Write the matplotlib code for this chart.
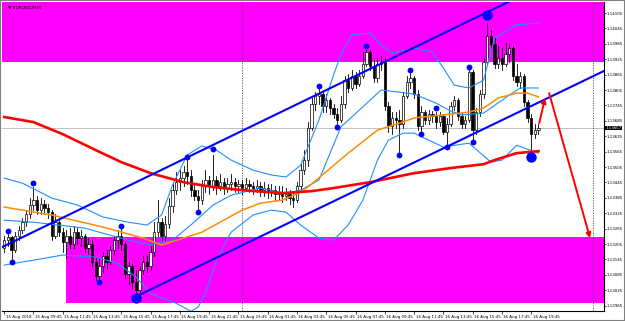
import matplotlib
matplotlib.use("Agg")
import matplotlib.pyplot as plt
import matplotlib.transforms as mtransforms
from matplotlib.patches import Rectangle

# --------------------
# Data: EURUSD M15, 15 Aug 2018 07:45 -> 16 Aug 2018 20:15
# --------------------
symbol = "EURUSD,M15"

opens = [1.13189, 1.13220, 1.13232, 1.13181, 1.13236, 1.13259, 1.13290, 1.13321, 1.13356, 1.13376,
         1.13337, 1.13360, 1.13345, 1.13329, 1.13236, 1.13290, 1.13251, 1.13212, 1.13236, 1.13204,
         1.13251, 1.13228, 1.13236, 1.13189, 1.13204, 1.13134, 1.13080, 1.13119, 1.13158, 1.13134,
         1.13181, 1.13220, 1.13236, 1.13204, 1.13087, 1.13119, 1.13056, 1.13025, 1.13103, 1.13134,
         1.13119, 1.13173, 1.13251, 1.13290, 1.13236, 1.13282, 1.13353, 1.13415, 1.13446, 1.13462,
         1.13485, 1.13470, 1.13415, 1.13392, 1.13376, 1.13431, 1.13454, 1.13431, 1.13454, 1.13431,
         1.13446, 1.13423, 1.13438, 1.13446, 1.13431, 1.13438, 1.13423, 1.13438, 1.13431, 1.13423,
         1.13431, 1.13415, 1.13423, 1.13407, 1.13415, 1.13399, 1.13407, 1.13392, 1.13399, 1.13384,
         1.13376, 1.13431, 1.13493, 1.13532, 1.13657, 1.13750, 1.13782, 1.13789, 1.13743, 1.13766,
         1.13735, 1.13711, 1.13688, 1.13750, 1.13844, 1.13813, 1.13860, 1.13828, 1.13860, 1.13906,
         1.13953, 1.13899, 1.13852, 1.13906, 1.13914, 1.13743, 1.13665, 1.13696, 1.13688, 1.13672,
         1.13782, 1.13836, 1.13852, 1.13789, 1.13665, 1.13719, 1.13688, 1.13711, 1.13704, 1.13680,
         1.13704, 1.13641, 1.13672, 1.13743, 1.13766, 1.13704, 1.13672, 1.13688, 1.13875, 1.13649,
         1.13719, 1.13789, 1.13914, 1.14016, 1.13984, 1.13906, 1.13930, 1.13906, 1.13945, 1.13969,
         1.13860, 1.13836, 1.13860, 1.13758, 1.13696, 1.13633, 1.13649]
highs = [1.13236, 1.13243, 1.13236, 1.13251, 1.13275, 1.13306, 1.13337, 1.13384, 1.13427, 1.13392,
         1.13384, 1.13376, 1.13360, 1.13337, 1.13321, 1.13306, 1.13267, 1.13259, 1.13267, 1.13275,
         1.13267, 1.13259, 1.13243, 1.13228, 1.13220, 1.13150, 1.13150, 1.13173, 1.13181, 1.13197,
         1.13236, 1.13259, 1.13263, 1.13212, 1.13134, 1.13126, 1.13103, 1.13119, 1.13158, 1.13158,
         1.13197, 1.13290, 1.13376, 1.13306, 1.13314, 1.13384, 1.13438, 1.13485, 1.13493, 1.13509,
         1.13532, 1.13493, 1.13438, 1.13415, 1.13454, 1.13493, 1.13470, 1.13551, 1.13470, 1.13477,
         1.13462, 1.13462, 1.13477, 1.13462, 1.13454, 1.13454, 1.13462, 1.13454, 1.13446, 1.13454,
         1.13446, 1.13446, 1.13438, 1.13438, 1.13431, 1.13431, 1.13431, 1.13423, 1.13415, 1.13407,
         1.13446, 1.13516, 1.13571, 1.13680, 1.13774, 1.13797, 1.13809, 1.13797, 1.13789, 1.13774,
         1.13750, 1.13735, 1.13782, 1.13860, 1.13867, 1.13883, 1.13875, 1.13883, 1.13953, 1.13965,
         1.13961, 1.13922, 1.13930, 1.13938, 1.13930, 1.13758, 1.13719, 1.13719, 1.13727, 1.13797,
         1.13860, 1.13871, 1.13860, 1.13805, 1.13743, 1.13727, 1.13727, 1.13723, 1.13719, 1.13719,
         1.13711, 1.13696, 1.13758, 1.13782, 1.13774, 1.13719, 1.13704, 1.13883, 1.13883, 1.13735,
         1.13805, 1.13930, 1.14066, 1.14039, 1.14008, 1.13977, 1.13969, 1.13989, 1.13984, 1.13977,
         1.13906, 1.13875, 1.13867, 1.13766, 1.13711, 1.13672, 1.13672]
lows = [1.13173, 1.13197, 1.13146, 1.13173, 1.13220, 1.13247, 1.13275, 1.13306, 1.13337, 1.13321,
        1.13321, 1.13321, 1.13306, 1.13220, 1.13228, 1.13236, 1.13173, 1.13150, 1.13189, 1.13189,
        1.13204, 1.13197, 1.13173, 1.13165, 1.13119, 1.13064, 1.13068, 1.13095, 1.13111, 1.13126,
        1.13165, 1.13189, 1.13181, 1.13072, 1.13048, 1.13033, 1.13005, 1.13017, 1.13087, 1.13095,
        1.13103, 1.13158, 1.13236, 1.13220, 1.13220, 1.13267, 1.13329, 1.13399, 1.13415, 1.13431,
        1.13438, 1.13392, 1.13376, 1.13341, 1.13360, 1.13407, 1.13399, 1.13415, 1.13399, 1.13415,
        1.13399, 1.13407, 1.13415, 1.13407, 1.13407, 1.13399, 1.13415, 1.13407, 1.13399, 1.13407,
        1.13392, 1.13392, 1.13384, 1.13392, 1.13376, 1.13376, 1.13368, 1.13376, 1.13360, 1.13349,
        1.13368, 1.13415, 1.13477, 1.13509, 1.13649, 1.13727, 1.13750, 1.13719, 1.13719, 1.13711,
        1.13696, 1.13672, 1.13680, 1.13735, 1.13797, 1.13805, 1.13813, 1.13821, 1.13852, 1.13899,
        1.13883, 1.13836, 1.13836, 1.13883, 1.13727, 1.13641, 1.13633, 1.13657, 1.13563, 1.13657,
        1.13774, 1.13813, 1.13774, 1.13649, 1.13645, 1.13672, 1.13672, 1.13680, 1.13657, 1.13665,
        1.13633, 1.13594, 1.13665, 1.13727, 1.13688, 1.13657, 1.13657, 1.13680, 1.13614, 1.13633,
        1.13704, 1.13774, 1.13906, 1.13969, 1.13891, 1.13891, 1.13883, 1.13899, 1.13914, 1.13844,
        1.13821, 1.13813, 1.13743, 1.13680, 1.13555, 1.13618, 1.13633]
closes = [1.13220, 1.13232, 1.13181, 1.13236, 1.13259, 1.13290, 1.13321, 1.13356, 1.13376, 1.13337,
          1.13360, 1.13345, 1.13329, 1.13236, 1.13290, 1.13251, 1.13212, 1.13236, 1.13204, 1.13251,
          1.13228, 1.13236, 1.13189, 1.13204, 1.13134, 1.13080, 1.13119, 1.13158, 1.13134, 1.13181,
          1.13220, 1.13236, 1.13204, 1.13087, 1.13119, 1.13056, 1.13025, 1.13103, 1.13134, 1.13119,
          1.13173, 1.13251, 1.13290, 1.13236, 1.13282, 1.13353, 1.13415, 1.13446, 1.13462, 1.13485,
          1.13470, 1.13415, 1.13392, 1.13376, 1.13431, 1.13454, 1.13431, 1.13454, 1.13431, 1.13446,
          1.13423, 1.13438, 1.13446, 1.13431, 1.13438, 1.13423, 1.13438, 1.13431, 1.13423, 1.13431,
          1.13415, 1.13423, 1.13407, 1.13415, 1.13399, 1.13407, 1.13392, 1.13399, 1.13384, 1.13376,
          1.13431, 1.13493, 1.13532, 1.13657, 1.13750, 1.13782, 1.13789, 1.13743, 1.13766, 1.13735,
          1.13711, 1.13688, 1.13750, 1.13844, 1.13813, 1.13860, 1.13828, 1.13860, 1.13906, 1.13953,
          1.13899, 1.13852, 1.13906, 1.13914, 1.13743, 1.13665, 1.13696, 1.13688, 1.13672, 1.13782,
          1.13836, 1.13852, 1.13789, 1.13665, 1.13719, 1.13688, 1.13711, 1.13704, 1.13680, 1.13704,
          1.13641, 1.13672, 1.13743, 1.13766, 1.13704, 1.13672, 1.13688, 1.13875, 1.13649, 1.13719,
          1.13789, 1.13914, 1.14016, 1.13984, 1.13906, 1.13930, 1.13906, 1.13945, 1.13969, 1.13860,
          1.13836, 1.13860, 1.13758, 1.13696, 1.13633, 1.13649, 1.13657]

# slow MA (red), fast MA (orange): bar index / price
ma_slow_x = [0, 8, 16, 25, 32, 40, 49, 57, 65, 76, 84, 90, 100, 112, 122, 131, 134, 140, 146]
ma_slow_y = [1.13700, 1.13680, 1.13633, 1.13571, 1.13524, 1.13481, 1.13446, 1.13427, 1.13415, 1.13403,
             1.13411, 1.13423, 1.13446, 1.13481, 1.13501, 1.13516, 1.13532, 1.13559, 1.13567]
ma_fast_x = [0, 13, 27, 38, 43, 49, 54, 60, 65, 70, 76, 81, 83, 94, 102, 108, 112, 122, 127, 131, 135, 140, 143, 146]
ma_fast_y = [1.13349, 1.13318, 1.13271, 1.13228, 1.13201, 1.13228, 1.13251, 1.13298, 1.13337, 1.13364,
             1.13376, 1.13407, 1.13427, 1.13559, 1.13649, 1.13676, 1.13696, 1.13711, 1.13719, 1.13735,
             1.13774, 1.13793, 1.13793, 1.13778]

# Bollinger bands
bb_up_x = [0, 5, 13, 20, 27, 34, 39, 43, 46, 50, 54, 58, 62, 68, 73, 77, 81, 86, 90, 92, 95, 100,
           103, 106, 112, 117, 120, 123, 127, 131, 134, 140, 146]
bb_up_y = [1.13462, 1.13442, 1.13384, 1.13357, 1.13310, 1.13290, 1.13279, 1.13318, 1.13435, 1.13552,
           1.13587, 1.13571, 1.13532, 1.13493, 1.13474, 1.13466, 1.13512, 1.13688, 1.13864, 1.13942,
           1.14020, 1.14027, 1.13981, 1.13949, 1.13969, 1.13953, 1.13891, 1.13824, 1.13813, 1.13844,
           1.14008, 1.14059, 1.14066]
bb_mid_x = [0, 8, 22, 27, 34, 40, 46, 51, 57, 62, 70, 77, 81, 86, 92, 103, 108, 112, 118, 122, 125, 131, 138, 141, 146]
bb_mid_y = [1.13298, 1.13290, 1.13267, 1.13247, 1.13220, 1.13201, 1.13220, 1.13279, 1.13356, 1.13395,
            1.13423, 1.13403, 1.13415, 1.13454, 1.13661, 1.13805, 1.13797, 1.13789, 1.13754, 1.13723,
            1.13708, 1.13715, 1.13785, 1.13813, 1.13813]
bb_lo_x = [0, 8, 16, 25, 31, 36, 40, 47, 51, 53, 55, 58, 62, 68, 73, 77, 81, 86, 90, 94, 98, 102,
           105, 109, 112, 120, 127, 133, 136, 140, 146]
bb_lo_y = [1.13123, 1.13142, 1.13162, 1.13154, 1.13130, 1.13076, 1.13013, 1.12974, 1.12943, 1.12959,
           1.13013, 1.13142, 1.13251, 1.13318, 1.13337, 1.13329, 1.13279, 1.13228, 1.13220, 1.13279,
           1.13376, 1.13532, 1.13610, 1.13637, 1.13637, 1.13583, 1.13598, 1.13524, 1.13532, 1.13590,
           1.13559]

# fractal dots
frac_x = [1, 2, 8, 26, 32, 50, 53, 57, 86, 91, 99, 108, 111, 114, 118, 121, 127, 128]
frac_y = [1.13255, 1.13134, 1.13442, 1.13056, 1.13275, 1.13544, 1.13329, 1.13575, 1.13821, 1.13661,
          1.13977, 1.13552, 1.13883, 1.13633, 1.13735, 1.13583, 1.13895, 1.13602]
big_x = [36, 132, 144]
big_y = [1.12994, 1.14098, 1.13544]

# channel anchors
chan_up = [(0, 1.13197), (132.2, 1.14110)]
chan_lo = [(35.8, 1.12999), (152.5, 1.13801)]

# supply / demand boxes (bar from, price low, price high)
zones = [(-2, 1.13914, 1.1420), (16.9, 1.12974, 1.13232)]

# red arrows (from -> to)
arrows = [((146.2, 1.13676), (147.8, 1.13774)), ((148.9, 1.13793), (160.1, 1.13228))]

bid = 1.13657
separators = [65, 161]
price_ticks = [1.12965 + 0.0006 * k for k in range(20)]
time_idx = list(range(0, 145, 8))
time_labels = ["15 Aug 2018", "15 Aug 09:45", "15 Aug 11:45", "15 Aug 13:45", "15 Aug 15:45",
               "15 Aug 17:45", "15 Aug 19:45", "15 Aug 21:45", "15 Aug 23:45", "16 Aug 01:45",
               "16 Aug 03:45", "16 Aug 05:45", "16 Aug 07:45", "16 Aug 09:45", "16 Aug 11:45",
               "16 Aug 13:45", "16 Aug 15:45", "16 Aug 17:45", "16 Aug 19:45"]

FS_Y = 2.9
FS_X = 2.9

# --------------------
# Figure
# --------------------
W, H = 625, 321
fig = plt.figure(figsize=(W / 100, H / 100), dpi=100)
fig.patch.set_facecolor("white")
ax = fig.add_axes([2 / W, (H - 311) / H, 602 / W, 309 / H])
ax.set_xlim(-0.6, 163.9)
ax.set_ylim(1.12944, 1.14148)
ax.set_facecolor("white")

for x0, lo, hi in zones:
    ax.add_patch(Rectangle((x0, lo), 300, hi - lo, facecolor="#FF00FF", edgecolor="none", zorder=0))

ax.axhline(bid, color="#C0C0C0", lw=0.7, zorder=1)
for s in separators:
    ax.axvline(s, color="#505050", lw=0.6, ls=(0, (1.5, 1.5)), zorder=1)

# candles
for i in range(len(closes)):
    o, h, l, c = opens[i], highs[i], lows[i], closes[i]
    ax.plot([i, i], [l, h], color="black", lw=0.6, zorder=3)
    bull = c >= o
    ax.add_patch(Rectangle((i - 0.32, min(o, c)), 0.64, max(abs(c - o), 0.000015),
                           facecolor="white" if bull else "black", edgecolor="black",
                           lw=0.5, zorder=4))

ax.plot(bb_up_x, bb_up_y, color="#1E90FF", lw=0.8, zorder=5)
ax.plot(bb_mid_x, bb_mid_y, color="#1E90FF", lw=0.8, zorder=5)
ax.plot(bb_lo_x, bb_lo_y, color="#1E90FF", lw=0.8, zorder=5)
ax.plot(ma_fast_x, ma_fast_y, color="#FF8C00", lw=1.1, zorder=5)
ax.plot(ma_slow_x, ma_slow_y, color="#FF0000", lw=1.9, zorder=5)

# channel
(ux0, uy0), (ux1, uy1) = chan_up
su = (uy1 - uy0) / (ux1 - ux0)
ax.plot([-5, 200], [uy0 + su * (-5 - ux0), uy0 + su * (200 - ux0)], color="#0000FF", lw=1.5, zorder=6)
(lx0, ly0), (lx1, ly1) = chan_lo
sl = (ly1 - ly0) / (lx1 - lx0)
ax.plot([lx0, 200], [ly0, ly0 + sl * (200 - lx0)], color="#0000FF", lw=1.5, zorder=6)

ax.plot(frac_x, frac_y, "o", color="#0000FF", ms=4.2, mec="none", zorder=7)
ax.plot(big_x, big_y, "o", color="#0000FF", ms=7.5, mec="none", zorder=7)

for (x0, y0), (x1, y1) in arrows:
    ax.annotate("", xy=(x1, y1), xytext=(x0, y0),
                arrowprops=dict(arrowstyle="-|>", color="#FF0000", lw=1.4, mutation_scale=7,
                                shrinkA=0, shrinkB=0), zorder=8)

# axes look
for side in ["left", "top"]:
    ax.spines[side].set_visible(False)
for side in ["right", "bottom"]:
    ax.spines[side].set_color("black")
    ax.spines[side].set_linewidth(0.8)

ax.yaxis.tick_right()
ax.set_yticks(price_ticks)
ax.set_yticklabels([f"{p:.5f}" for p in price_ticks], fontsize=FS_Y)
ax.tick_params(axis="y", direction="out", length=1.5, width=0.5, pad=0.5)
ax.set_xticks(time_idx)
ax.set_xticklabels([])
ax.tick_params(axis="x", direction="out", length=2.5, width=0.5)
trans = mtransforms.blended_transform_factory(ax.transData, ax.transAxes)
for i, lab in zip(time_idx, time_labels):
    ax.text(i + 0.4, -0.012, lab, transform=trans, fontsize=FS_X, ha="left", va="top")

rtrans = mtransforms.blended_transform_factory(ax.transAxes, ax.transData)
ax.text(1.002, bid, f"{bid:.5f}", transform=rtrans, fontsize=FS_Y, color="white", ha="left",
        va="center", bbox=dict(boxstyle="square,pad=0.1", fc="black", ec="none"), zorder=10)

ax.text(0.01, 0.988, "\u25bc " + symbol, transform=ax.transAxes, fontsize=3.2, ha="left", va="top", zorder=10)

# outer frame
fig.add_artist(Rectangle((0, 0), 1, 1, transform=fig.transFigure, fill=False, ec="#808080", lw=1.5))

fig.savefig("out.png", dpi=100)
